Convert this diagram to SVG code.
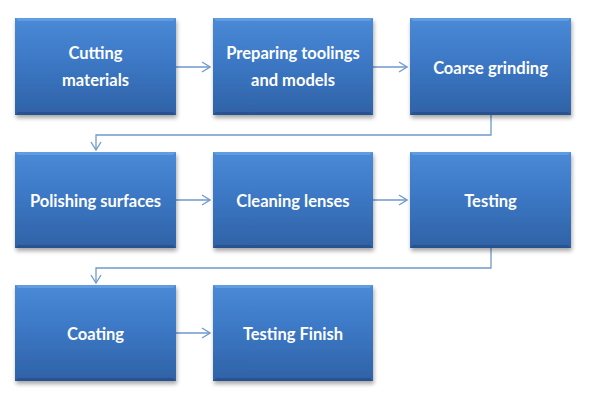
<svg xmlns="http://www.w3.org/2000/svg" width="592" height="419" viewBox="0 0 592 419">
<defs>
<linearGradient id="g" x1="0" y1="0" x2="0" y2="1">
<stop offset="0" stop-color="#4a8ad6"/>
<stop offset="0.45" stop-color="#3c78c5"/>
<stop offset="1" stop-color="#2f62a6"/>
</linearGradient>
<filter id="sh" x="-10%" y="-10%" width="125%" height="130%">
<feGaussianBlur in="SourceAlpha" stdDeviation="2"/>
<feOffset dx="1" dy="3"/>
<feComponentTransfer><feFuncA type="linear" slope="0.35"/></feComponentTransfer>
<feMerge><feMergeNode/><feMergeNode in="SourceGraphic"/></feMerge>
</filter>
<marker id="ah" viewBox="0 0 10 12" refX="9" refY="6" markerWidth="10" markerHeight="12" markerUnits="userSpaceOnUse" orient="auto">
<path d="M1,1 L9,6 L1,11" fill="none" stroke="#7099cc" stroke-width="1.3"/>
</marker>
</defs>
<style>
.box{fill:url(#g);filter:url(#sh)}
.top{fill:#6aa2e3;opacity:0.75}
.bot{fill:#234d88;opacity:0.7}
.t{font-family:Lato,"Open Sans","Liberation Sans",sans-serif;font-weight:bold;font-size:16.5px;fill:#ffffff;text-anchor:middle}
.c{fill:none;stroke:#7099cc;stroke-width:1.3;marker-end:url(#ah)}
</style>
<rect width="592" height="419" fill="#ffffff"/>
<g id="connectors">
<path class="c" d="M176,67 H210"/>
<path class="c" d="M373,67 H407"/>
<path class="c" d="M491,115 V135 H96 V150"/>
<path class="c" d="M176,200 H210"/>
<path class="c" d="M373,200 H407"/>
<path class="c" d="M491,248 V268 H96 V283"/>
<path class="c" d="M176,333 H210"/>
</g>
<g id="n1">
<rect class="box" x="15" y="18" width="161" height="97"/>
<polygon class="top" points="15,18 176,18 173,21 18,21"/>
<polygon class="bot" points="15,115 176,115 173,112 18,112"/>
<text class="t" x="95.5" y="59">Cutting</text>
<text class="t" x="95.5" y="86">materials</text>
</g>
<g id="n2">
<rect class="box" x="213" y="18" width="160" height="97"/>
<polygon class="top" points="213,18 373,18 370,21 216,21"/>
<polygon class="bot" points="213,115 373,115 370,112 216,112"/>
<text class="t" x="293" y="59">Preparing toolings</text>
<text class="t" x="293" y="86">and models</text>
</g>
<g id="n3">
<rect class="box" x="410" y="18" width="161" height="97"/>
<polygon class="top" points="410,18 571,18 568,21 413,21"/>
<polygon class="bot" points="410,115 571,115 568,112 413,112"/>
<text class="t" x="490.5" y="74">Coarse grinding</text>
</g>
<g id="n4">
<rect class="box" x="15" y="152" width="161" height="96"/>
<polygon class="top" points="15,152 176,152 173,155 18,155"/>
<polygon class="bot" points="15,248 176,248 173,245 18,245"/>
<text class="t" x="95.5" y="207">Polishing surfaces</text>
</g>
<g id="n5">
<rect class="box" x="213" y="152" width="160" height="96"/>
<polygon class="top" points="213,152 373,152 370,155 216,155"/>
<polygon class="bot" points="213,248 373,248 370,245 216,245"/>
<text class="t" x="293" y="207">Cleaning lenses</text>
</g>
<g id="n6">
<rect class="box" x="410" y="152" width="161" height="96"/>
<polygon class="top" points="410,152 571,152 568,155 413,155"/>
<polygon class="bot" points="410,248 571,248 568,245 413,245"/>
<text class="t" x="490.5" y="207">Testing</text>
</g>
<g id="n7">
<rect class="box" x="15" y="285" width="161" height="96"/>
<polygon class="top" points="15,285 176,285 173,288 18,288"/>
<polygon class="bot" points="15,381 176,381 173,378 18,378"/>
<text class="t" x="95.5" y="340">Coating</text>
</g>
<g id="n8">
<rect class="box" x="213" y="285" width="160" height="96"/>
<polygon class="top" points="213,285 373,285 370,288 216,288"/>
<polygon class="bot" points="213,381 373,381 370,378 216,378"/>
<text class="t" x="293" y="340">Testing Finish</text>
</g>
</svg>
